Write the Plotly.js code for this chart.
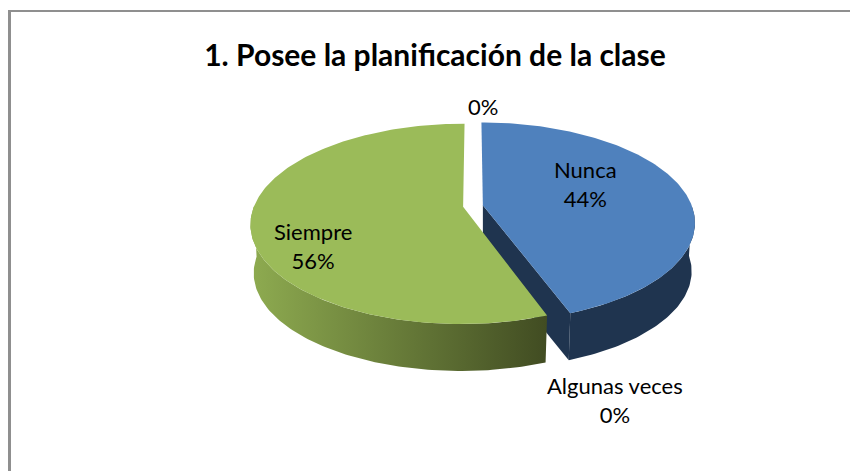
<!DOCTYPE html>
<html>
<head>
<meta charset="utf-8">
<script src="https://cdn.plot.ly/plotly-3.0.1.min.js"></script>
<style>
  html, body { margin: 0; padding: 0; background: #fff; }
  #chart { width: 850px; height: 471px; }
</style>
</head>
<body>
<div id="chart"></div>
<script>
// the last category has no name, the reference prints only its 0%
const categories = ["Nunca", "Algunas veces", "Siempre", ""];
const percents = [44.4, 0, 55.6, 0];
const topColors = ["#4F81BD", "#C0504D", "#9BBB59", "#8064A2"];
const wallColors = ["#1F344F", "#632523", "#8EAB50", "#40315A"];
const wallEndColors = ["#1F344F", "#632523", "#414C22", "#40315A"];

// the pie look is 3D, plotly pie is flat only, so slices are filled scatter
// traces worked out from the percents on pixel sized axes
const cx = 473, cy = 206;
const rx = 209, ry = 97;
const persp = 0.17;     // front of the pie is nearer than the back
const depth = 49;
const bottomScale = 0.985;
const explode = 0.048;

function project(angle, r, mid, drop) {
  let u = r * Math.sin(angle) + explode * Math.sin(mid);
  let v = -r * Math.cos(angle) - explode * Math.cos(mid);
  let w = 1 - persp * v;
  return [cx + rx * u / w, cy + ry * v / w + drop];
}

function arc(a0, a1, r, mid, drop) {
  let pts = [];
  let steps = Math.max(2, Math.ceil((a1 - a0) * 180 / Math.PI));
  for (let i = 0; i <= steps; i++) {
    pts.push(project(a0 + (a1 - a0) * i / steps, r, mid, drop));
  }
  return pts;
}

function polyTrace(pts, color, endColor) {
  let closed = pts.concat([pts[0]]);
  let trace = {
    x: closed.map(p => p[0]),
    y: closed.map(p => p[1]),
    type: "scatter",
    mode: "lines",
    line: { width: 0 },
    fill: "toself",
    fillcolor: color,
    hoverinfo: "skip",
    showlegend: false
  };
  if (endColor && endColor !== color) {
    trace.fillgradient = {
      type: "horizontal",
      colorscale: [[0, color], [1, endColor]]
    };
  }
  return trace;
}

let data = [];
let total = percents.reduce((a, b) => a + b, 0);
let start = 0;
percents.forEach(function (val, i) {
  let a0 = start;
  let a1 = start + val / total * 2 * Math.PI;
  start = a1;
  if (val === 0) return;
  let mid = (a0 + a1) / 2;
  let topArc = arc(a0, a1, 1, mid, 0);
  let lowArc = arc(a0, a1, bottomScale, mid, depth);
  let apexTop = project(0, 0, mid, 0);
  let apexLow = project(0, 0, mid, depth);

  // cut face at the end of the slice, only the first one shows it
  if (i === 0) {
    data.push(polyTrace([apexTop, topArc[topArc.length - 1], lowArc[lowArc.length - 1], apexLow], wallColors[i]));
  }
  // outer wall, front half only so nothing pokes out behind the top face
  let frontTop = topArc.filter(p => p[1] > cy);
  let frontLow = lowArc.filter((p, n) => topArc[n][1] > cy);
  data.push(polyTrace(frontTop.concat(frontLow.reverse()), wallColors[i], wallEndColors[i]));
  data.push(polyTrace([apexTop].concat(topArc), topColors[i]));
});

const labelFont = { family: "Lato, Carlito, sans-serif", size: 22, color: "#000000" };
function label(text, x, y) {
  return { text: text, x: x, y: y, xref: "x", yref: "y", showarrow: false, font: labelFont, align: "center" };
}
function labelText(i) {
  let pct = Math.round(percents[i]) + "%";
  return categories[i] ? categories[i] + "<br>" + pct : pct;
}

let layout = {
  width: 850,
  height: 471,
  margin: { l: 0, r: 0, t: 0, b: 0 },
  paper_bgcolor: "#ffffff",
  plot_bgcolor: "#ffffff",
  showlegend: false,
  title: {
    text: "<b>1. Posee la planificación de la clase</b>",
    font: { family: "Lato, Carlito, sans-serif", size: 30, color: "#000000" },
    x: 435 / 850,
    xanchor: "center",
    y: 1 - 55 / 471,
    yanchor: "middle"
  },
  xaxis: { range: [0, 850], visible: false, fixedrange: true },
  yaxis: { range: [471, 0], visible: false, fixedrange: true },
  annotations: [
    label(labelText(0), 585, 184),
    label(labelText(1), 615, 400),
    label(labelText(2), 313, 246),
    label(labelText(3), 483, 106)
  ],
  shapes: [
    { type: "line", xref: "paper", yref: "paper", x0: 9.5 / 850, x1: 1, y0: 1 - 11 / 471, y1: 1 - 11 / 471, line: { color: "#8f8f8f", width: 2 } },
    { type: "line", xref: "paper", yref: "paper", x0: 9.5 / 850, x1: 9.5 / 850, y0: 0, y1: 1 - 10 / 471, line: { color: "#8f8f8f", width: 3 } }
  ]
};

Plotly.newPlot("chart", data, layout, { staticPlot: true, displayModeBar: false });
</script>
</body>
</html>
